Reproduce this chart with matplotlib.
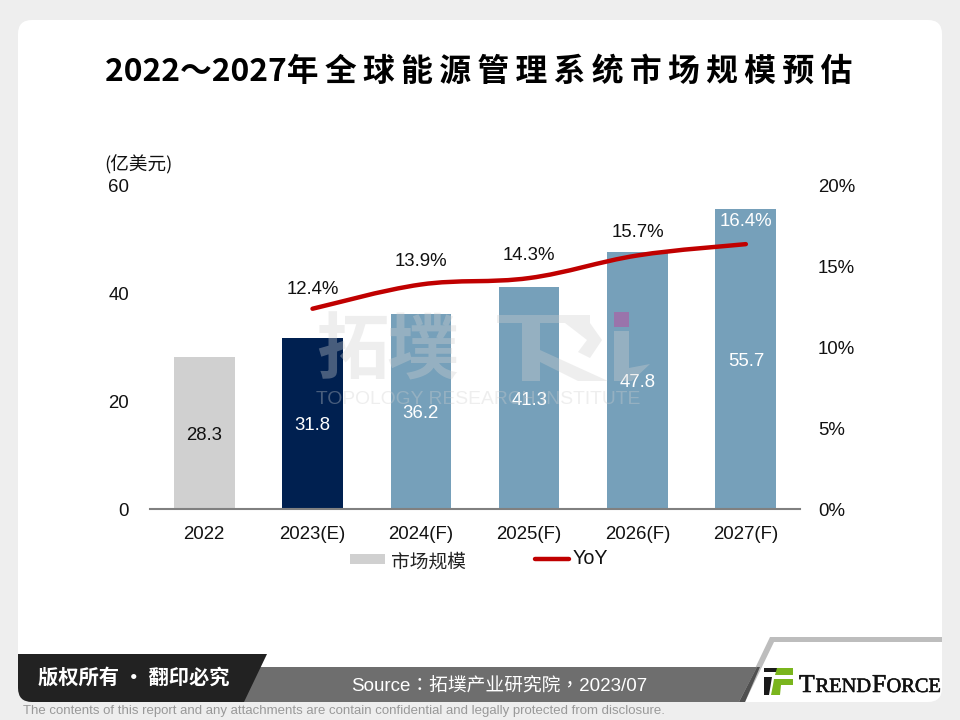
import matplotlib
matplotlib.use('Agg')
import matplotlib.pyplot as plt
import matplotlib.patheffects as pe
from matplotlib.patches import FancyBboxPatch, Polygon, PathPatch, Rectangle
from matplotlib.path import Path
from matplotlib.lines import Line2D

CJK = ['Noto Sans CJK SC', 'DejaVu Sans']
plt.rcParams['font.family'] = ['Liberation Sans', 'Noto Sans CJK SC', 'DejaVu Sans']

categories = ['2022', '2023(E)', '2024(F)', '2025(F)', '2026(F)', '2027(F)']
market = [28.3, 31.8, 36.2, 41.3, 47.8, 55.7]
yoy = [12.4, 13.9, 14.3, 15.7, 16.4]
yoy_cats = [1, 2, 3, 4, 5]
bar_colors = ['#D0D0D0', '#002050', '#76A0BA', '#76A0BA', '#76A0BA', '#76A0BA']
label_colors = ['#111111', 'white', 'white', 'white', 'white', 'white']
left_ticks = [0, 20, 40, 60]
right_ticks = [0, 5, 10, 15, 20]

W, H = 960, 720
fig = plt.figure(figsize=(9.6, 7.2), dpi=100, facecolor='#EEEEEE')

def px_axes(z):
    a = fig.add_axes([0, 0, 1, 1], zorder=z)
    a.set_xlim(0, W); a.set_ylim(H, 0); a.axis('off'); a.patch.set_alpha(0)
    return a

bg = px_axes(0)
bg.add_patch(FancyBboxPatch((18, 20), 924, 682, boxstyle='round,pad=0,rounding_size=14', fc='white', ec='none'))
title_head = '2022～2027'
title_tail = '年全球能源管理系统市场规模预估'
bg.text(105, 72, title_head + '\u2009'.join(title_tail), ha='left', va='center', fontsize=22.9,
        fontweight='bold', color='black', family=CJK)

# chart
ax = fig.add_axes([150/W, 1-509/H, 650/W, 323/H], zorder=1)
ax.patch.set_alpha(0)
x = list(range(len(categories)))
ax.bar(x, market, width=0.56, color=bar_colors)
ax.set_xlim(-0.5, 5.5); ax.set_ylim(0, 60)
ax.set_yticks(left_ticks)
ax.set_xticks(x, categories)
ax.tick_params(length=0, labelsize=13.4, colors='#111111')
ax.tick_params(axis='x', pad=12)
ax.tick_params(axis='y', pad=15)
for s in ['top', 'left', 'right']:
    ax.spines[s].set_visible(False)
ax.spines['bottom'].set_color('#808080'); ax.spines['bottom'].set_linewidth(1.5)
for xi, v, c in zip(x, market, label_colors):
    ax.text(xi, v/2 - 0.45, f'{v:.1f}', ha='center', va='center', fontsize=13.4, color=c)

ax2 = ax.twinx()
ax2.patch.set_alpha(0)
ax2.set_ylim(0, 20)
ax2.set_yticks(right_ticks, [f'{t}%' for t in right_ticks])
ax2.tick_params(length=0, labelsize=13.4, colors='#111111', pad=13)
for s in ax2.spines.values():
    s.set_visible(False)

# smoothed YoY line (Catmull-Rom through the values)
pts = list(zip(yoy_cats, yoy))
verts = [pts[0]]; codes = [Path.MOVETO]
for i in range(len(pts)-1):
    p0 = pts[max(i-1, 0)]; p1 = pts[i]; p2 = pts[i+1]; p3 = pts[min(i+2, len(pts)-1)]
    k = 0.18
    c1 = (p1[0] + (p2[0]-p0[0])*k, p1[1] + (p2[1]-p0[1])*k)
    c2 = (p2[0] - (p3[0]-p1[0])*k, p2[1] - (p3[1]-p1[1])*k)
    verts += [c1, c2, p2]; codes += [Path.CURVE4]*3
ax2.add_patch(PathPatch(Path(verts, codes), fc='none', ec='#C00000', lw=3.2, capstyle='round', zorder=5))
for xi, v, o, i in zip(yoy_cats, yoy, [1.2, 1.4, 1.4, 1.4, 1.4], range(5)):
    ax2.text(xi, v + o, f'{v}%', ha='center', va='center', fontsize=13.4,
             color='white' if i == 4 else '#111111', zorder=6)

fg = px_axes(3)
# unit
fg.text(104, 165, '(亿美元)', ha='left', va='center', fontsize=13.4, color='#111111',
        family=CJK, fontweight='light')
# watermark
wm = '#D0D0D0'
fg.text(316, 352, '拓', fontsize=52, fontweight='bold', color=wm, alpha=0.35, ha='left', va='center',
        family=['Noto Sans CJK SC'])
fg.text(386, 352, '墣', fontsize=52, fontweight='bold', color=wm, alpha=0.35, ha='left', va='center',
        family=['Noto Sans CJK SC'])
for poly in ([[497, 315], [590, 315], [590, 323], [497, 323]],
             [[522, 323], [540, 323], [540, 381], [522, 381]],
             [[540, 350], [608, 381], [578, 381], [540, 362]],
             [[565, 323], [590, 323], [602, 340], [590, 358], [578, 352], [587, 340]],
             [[614, 331], [629, 331], [629, 368], [650, 364], [632, 381], [614, 381]]):
    fg.add_patch(Polygon(poly, closed=True, fc=wm, ec='none', alpha=0.35))
fg.add_patch(Rectangle((614, 312), 15, 15, fc='#C8409A', ec='none', alpha=0.45))
fg.text(316, 400, 'TOPOLOGY RESEARCH INSTITUTE', fontsize=13.9, color=wm, alpha=0.35, ha='left', va='center')

# legend
fg.add_patch(Rectangle((350, 554), 35, 10, fc='#D0D0D0', ec='none'))
fg.text(391, 562, '市场规模', fontsize=13.5, color='#222222', ha='left', va='center',
        family=CJK, fontweight='light')
fg.add_line(Line2D([535, 569], [559, 559], color='#C00000', lw=3.2, solid_capstyle='round'))
fg.text(573, 558, 'YoY', fontsize=14.2, color='#111111', ha='left', va='center')

# footer
fg.add_patch(Polygon([[770, 637], [942, 637], [942, 642], [774, 642], [745, 702], [739, 702]], closed=True, fc='#BDBDBD', ec='none'))
fg.add_patch(Polygon([[250, 667], [757, 667], [739, 702], [235, 702]], closed=True, fc='#6E6E6E', ec='none'))
fg.add_patch(Polygon([[757, 667], [760, 667], [745, 702], [739, 702]], closed=True, fc='#505050', ec='none'))
black = Path([(18, 654), (267, 654), (244, 702), (32, 702), (18, 702), (18, 688), (18, 654)],
             [Path.MOVETO, Path.LINETO, Path.LINETO, Path.LINETO, Path.CURVE3, Path.CURVE3, Path.CLOSEPOLY])
fg.add_patch(PathPatch(black, fc='#222222', ec='none'))
fg.text(134, 677, '版权所有 · 翻印必究', fontsize=14.6, color='white', fontweight='bold', ha='center', va='center',
        family=CJK)
fg.text(499, 687, 'Source：拓墣产业研究院，2023/07', fontsize=13.5, color='white', ha='center', va='center',
        family=['Liberation Sans', 'Noto Sans CJK TC', 'DejaVu Sans'])
# logo
fg.add_patch(Polygon([[764, 668], [781, 668], [779, 672], [764, 672]], closed=True, fc='#1A1A1A', ec='none'))
fg.add_patch(Polygon([[764, 677], [772, 677], [769, 695], [764, 695]], closed=True, fc='#1A1A1A', ec='none'))
fg.add_patch(Polygon([[777, 668], [793, 668], [793, 675], [775, 675]], closed=True, fc='#7AB51D', ec='none'))
fg.add_patch(Polygon([[774, 679], [793, 679], [793, 685], [773, 685]], closed=True, fc='#7AB51D', ec='none'))
fg.add_patch(Polygon([[773, 685], [781, 685], [780, 695], [771, 695]], closed=True, fc='#7AB51D', ec='none'))
for tx, s, fs in [(799, 'T', 18.5), (815.5, 'REND', 14.7), (872, 'F', 18.5), (886.5, 'ORCE', 14.7)]:
    fg.text(tx, 692, s, fontsize=fs, family='Liberation Serif', color='#111111', ha='left', va='baseline',
            path_effects=[pe.withStroke(linewidth=0.4, foreground='#111111')])
fg.text(23, 711, 'The contents of this report and any attachments are contain confidential and legally protected from disclosure.',
        fontsize=9.57, color='#999999', ha='left', va='center')

fig.savefig('out.png', dpi=100, facecolor=fig.get_facecolor())
